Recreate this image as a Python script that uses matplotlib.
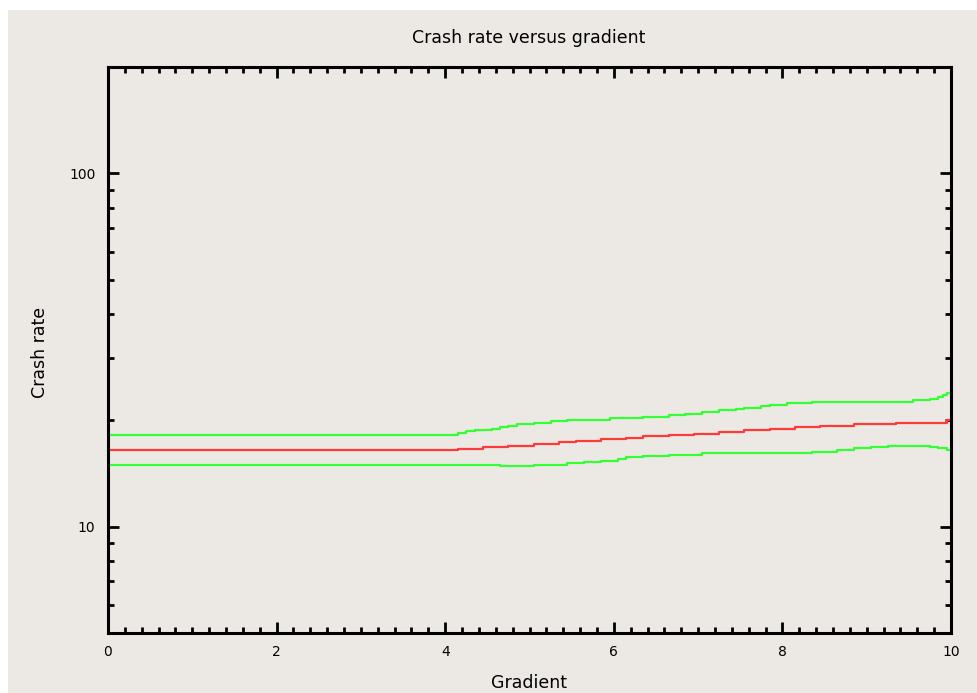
import matplotlib.pyplot as plt
from matplotlib.patches import Rectangle
from matplotlib.ticker import MultipleLocator, LogLocator, NullFormatter, FixedLocator, FixedFormatter

# step breakpoints (gradient, crash rate)
mid_x = [0, 4.15, 4.45, 4.75, 5.05, 5.35, 5.55, 5.85, 6.15, 6.35, 6.65, 6.95,
         7.25, 7.55, 7.85, 8.15, 8.45, 8.85, 9.35, 9.95, 10]
mid_y = [16.45, 16.6, 16.8, 16.95, 17.15, 17.35, 17.5, 17.65, 17.85, 18.0, 18.2, 18.35,
         18.55, 18.75, 18.9, 19.1, 19.3, 19.5, 19.65, 20.0, 20.0]

upper_x = [0, 4.15, 4.25, 4.35, 4.55, 4.65, 4.75, 4.85, 5.05, 5.25, 5.45, 5.95,
           6.35, 6.65, 6.85, 7.05, 7.25, 7.45, 7.55, 7.75, 7.85, 8.05, 8.35,
           9.55, 9.75, 9.85, 9.9, 9.95, 10]
upper_y = [18.2, 18.4, 18.6, 18.75, 18.95, 19.15, 19.3, 19.5, 19.7, 19.85, 20.1, 20.3,
           20.5, 20.7, 20.9, 21.15, 21.35, 21.55, 21.7, 21.9, 22.15, 22.4, 22.6,
           22.85, 23.05, 23.3, 23.6, 23.85, 23.85]

lower_x = [0, 4.65, 5.05, 5.45, 5.65, 5.85, 6.05, 6.15, 6.35, 6.65, 7.05, 8.35,
           8.65, 8.85, 9.05, 9.25, 9.75, 9.85, 9.95, 10]
lower_y = [14.95, 14.8, 14.95, 15.1, 15.2, 15.35, 15.5, 15.7, 15.85, 16.0, 16.15, 16.3,
           16.5, 16.65, 16.85, 16.95, 16.85, 16.65, 16.5, 16.5]

bg = '#ece9e4'
W, H = 977, 693
fig = plt.figure(figsize=(W / 100, H / 100), dpi=100, facecolor='white')
fig.patches.append(Rectangle((8 / W, 0), 1 - 8 / W, (H - 10) / H,
                             transform=fig.transFigure, facecolor=bg, edgecolor='none', zorder=-10))

ax = fig.add_axes([108 / W, (H - 633) / H, 843 / W, 566 / H])
ax.set_facecolor(bg)

ax.plot(upper_x, upper_y, drawstyle='steps-post', color='#33ff33', lw=1.6)
ax.plot(lower_x, lower_y, drawstyle='steps-post', color='#33ff33', lw=1.6)
ax.plot(mid_x, mid_y, drawstyle='steps-post', color='#ff3a3a', lw=1.6)

ax.set_yscale('log')
ax.set_xlim(0, 10)
ax.set_ylim(5, 200)

ax.xaxis.set_major_locator(MultipleLocator(2))
ax.xaxis.set_minor_locator(MultipleLocator(0.2))
ax.yaxis.set_major_locator(FixedLocator([10, 100]))
ax.yaxis.set_major_formatter(FixedFormatter(['10', '100']))
ax.yaxis.set_minor_locator(LogLocator(base=10, subs=range(2, 10)))
ax.yaxis.set_minor_formatter(NullFormatter())

for s in ax.spines.values():
    s.set_linewidth(2.2)
    s.set_color('black')

ax.tick_params(which='both', direction='in', top=True, right=True, width=2, labelsize=10)
ax.tick_params(which='major', length=8)
ax.tick_params(which='minor', length=4)
ax.tick_params(axis='x', pad=9)
ax.tick_params(axis='y', pad=9)

fig.text(529 / W, 1 - 38 / H, 'Crash rate versus gradient', ha='center', va='center', fontsize=12.5)
fig.text(529 / W, 1 - 683 / H, 'Gradient', ha='center', va='center', fontsize=12.5)
fig.text(40 / W, 1 - 352 / H, 'Crash rate', ha='center', va='center', rotation=90, fontsize=12.5)

fig.savefig('out.png', dpi=100)
